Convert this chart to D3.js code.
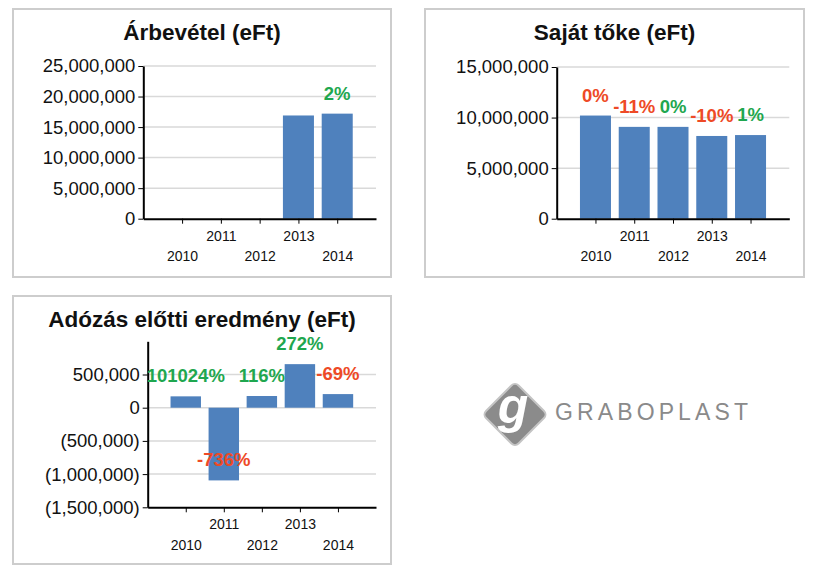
<!DOCTYPE html>
<html><head><meta charset="utf-8">
<script src="https://cdn.jsdelivr.net/npm/d3@7"></script>
<style>body{margin:0;background:#fff} svg{display:block} text{font-family:"Liberation Sans",Arial,Helvetica,sans-serif}</style>
</head><body><svg id="c" width="816" height="576"></svg>
<script>
// ---- data ----
const years = ["2010","2011","2012","2013","2014"];
const revenue = [null, null, null, 16900000, 17200000];
const revenuePct = [null, null, null, null, "2%"];
const revenueUp = [null, null, null, null, true];
const equity = [10200000, 9080000, 9080000, 8180000, 8270000];
const equityPct = ["0%", "-11%", "0%", "-10%", "1%"];
const equityUp = [false, false, true, false, true];
const pretax = [171000, -1095000, 176000, 656000, 205000];
const pretaxPct = ["101024%", "-736%", "116%", "272%", "-69%"];
const pretaxUp = [true, false, true, true, false];
const revenueTicks = [0, 5000000, 10000000, 15000000, 20000000, 25000000];
const equityTicks = [0, 5000000, 10000000, 15000000];
const pretaxTicks = [-1500000, -1000000, -500000, 0, 500000];

const svg = d3.select("#c");
svg.append("rect").attr("width",816).attr("height",576).attr("fill","#fff");
const comma = d3.format(",");
const paren = v => v < 0 ? "(" + comma(-v) + ")" : comma(v);

function drawPanel(p){
  const g = svg.append("g").attr("transform",`translate(${p.x},${p.y})`);
  g.append("rect").attr("x",1).attr("y",1).attr("width",p.w-2).attr("height",p.h-2)
    .attr("fill","#fff").attr("stroke","#cdcdcd").attr("stroke-width",2);
  g.append("text").attr("x",p.w/2).attr("y",31.5).attr("text-anchor","middle")
    .attr("font-size",22.5).attr("font-weight","bold").attr("fill","#111").text(p.title);

  const x = d3.scalePoint().domain(years).range([p.left,p.right]).padding(1);
  const y = d3.scaleLinear().domain(p.domain).range([p.bottom,p.top]);
  const bw = x.step()*0.8;

  g.selectAll(".grid").data(p.grid).join("line").attr("class","grid")
    .attr("x1",p.left).attr("x2",p.right).attr("y1",d=>y(d)).attr("y2",d=>y(d))
    .attr("stroke","#d9d9d9").attr("stroke-width",1.5);

  const data = years.map((yr,i)=>({yr, v:p.values[i], pct:p.pct[i], up:p.up[i]})).filter(d=>d.v!=null);
  g.selectAll(".bar").data(data).join("rect").attr("class","bar")
    .attr("x",d=>x(d.yr)-bw/2).attr("width",bw)
    .attr("y",d=>y(Math.max(0,d.v))).attr("height",d=>Math.abs(y(d.v)-y(0)))
    .attr("fill","#4f81bd");

  // y axis
  const ya = g.append("g").attr("transform",`translate(${p.left},0)`)
    .call(d3.axisLeft(y).tickValues(p.ticks).tickSize(5).tickSizeOuter(0).tickPadding(3).tickFormat(p.fmt));
  ya.select(".domain").attr("stroke","#000").attr("stroke-width",2);
  ya.selectAll(".tick line").attr("stroke","#000").attr("stroke-width",1);
  ya.selectAll(".tick text").attr("font-size",18.5)
    .attr("fill","#111").attr("font-family","Liberation Sans, Arial, sans-serif");

  // x axis
  const xa = g.append("g").attr("transform",`translate(0,${y(p.axisAt)})`)
    .call(d3.axisBottom(x).tickSize(5).tickSizeOuter(0));
  xa.select(".domain").attr("stroke","#000").attr("stroke-width",2);
  xa.selectAll(".tick line").attr("stroke","#000").attr("stroke-width",1);
  xa.selectAll(".tick text").attr("font-size",14).attr("fill","#111")
    .attr("font-family","Liberation Sans, Arial, sans-serif")
    .attr("dy",null).attr("y",(d,i)=> i%2 ? 22 : 42.5);

  // percent labels
  g.selectAll(".pct").data(data.filter(d=>d.pct)).join("text").attr("class","pct")
    .attr("x",d=>x(d.yr)).attr("y",d=>y(d.v)-14).attr("text-anchor","middle")
    .attr("font-size",18.5).attr("font-weight","bold")
    .attr("fill",d=>d.up ? "#1fa74f" : "#ee4a26").text(d=>d.pct);
}

drawPanel({x:12,y:8,w:380,h:270,left:131.3,right:364,top:58,bottom:210.7,
  title:"Árbevétel (eFt)",domain:[0,25000000],ticks:revenueTicks,grid:revenueTicks.slice(1),
  values:revenue,pct:revenuePct,up:revenueUp,fmt:comma,axisAt:0});
drawPanel({x:424,y:8,w:381,h:270,left:132.7,right:365.3,top:59,bottom:210.7,
  title:"Saját tőke (eFt)",domain:[0,15000000],ticks:equityTicks,grid:equityTicks.slice(1),
  values:equity,pct:equityPct,up:equityUp,fmt:comma,axisAt:0});
drawPanel({x:12,y:295,w:380,h:270,left:135.7,right:364,top:46.3,bottom:212.3,
  title:"Adózás előtti eredmény (eFt)",domain:[-1500000,1000000],ticks:pretaxTicks,grid:pretaxTicks.slice(1),
  values:pretax,pct:pretaxPct,up:pretaxUp,fmt:paren,axisAt:-1500000});

// logo
const lg = svg.append("g").attr("transform","translate(515,414.5)");
lg.append("rect").attr("x",-23).attr("y",-23).attr("width",46).attr("height",46).attr("rx",5)
  .attr("transform","rotate(45)").attr("fill","#8b8b8b").attr("stroke","#c4c4c4").attr("stroke-width",2);
lg.append("text").attr("x",-2).attr("y",8).attr("text-anchor","middle")
  .attr("font-family","DejaVu Serif, Liberation Serif, serif").attr("font-style","italic").attr("font-weight","bold")
  .attr("font-size",50).attr("fill","#fff").text("g");
svg.append("text").attr("x",555).attr("y",420).attr("font-family","Lato, Open Sans, sans-serif").attr("font-weight",300)
  .attr("font-size",23).attr("fill","#8a8a8a").attr("textLength",193).attr("lengthAdjust","spacing").text("GRABOPLAST");
</script></body></html>
